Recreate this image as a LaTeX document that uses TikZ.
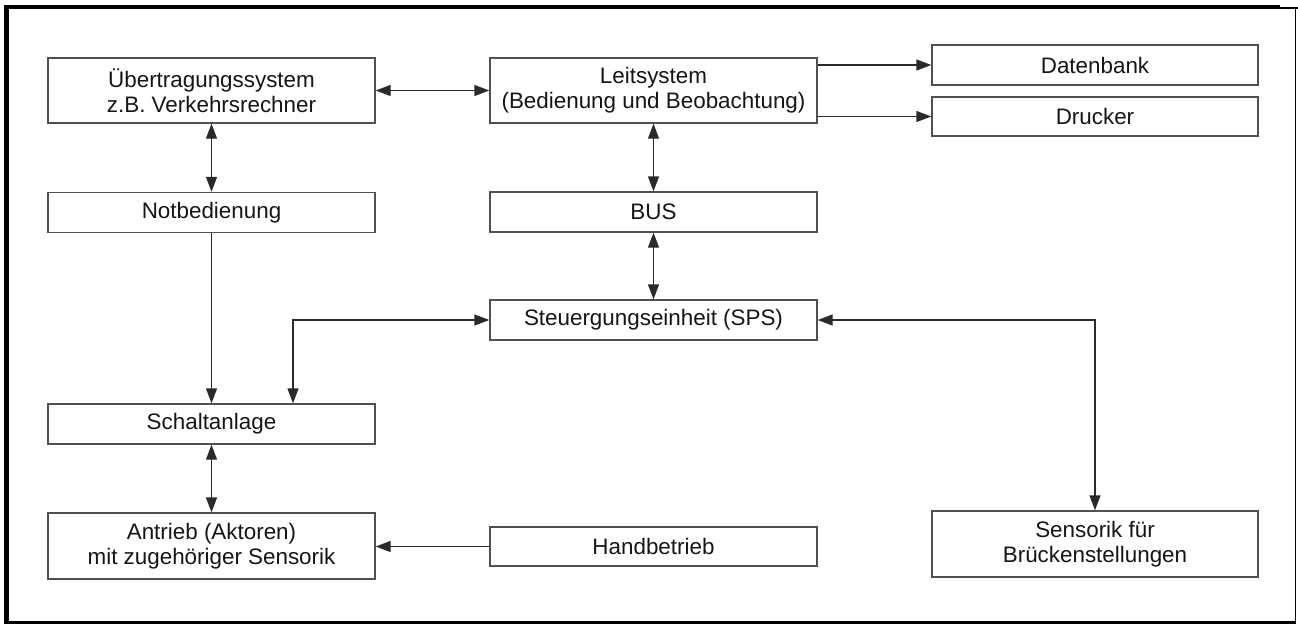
\documentclass[tikz,border=0pt]{standalone}
\usepackage{fontspec}
\setmainfont{Liberation Sans}
\usetikzlibrary{arrows.meta}
\definecolor{RahmenGrau}{HTML}{505050}
\definecolor{LinieGrau}{HTML}{2A2A2A}
\definecolor{TextDunkel}{HTML}{151515}

\begin{document}
\begin{tikzpicture}[x=1pt, y=-1pt,
  kasten/.style={draw=RahmenGrau, line width=1.4pt, text=TextDunkel, inner sep=0pt,
    minimum width=327pt, minimum height=#1, align=center,
    font=\fontsize{22.4}{25}\selectfont},
  kasten/.default=40pt,
  pfeil/.style={draw=LinieGrau, line width=1.4pt, -{Triangle[length=15pt,width=11pt]}},
  doppelpfeil/.style={pfeil, {Triangle[length=15pt,width=11pt]}-{Triangle[length=15pt,width=11pt]}}]

  % Seitenformat und Rahmen
  \useasboundingbox (0,0) rectangle (1298,624);
  \draw[line width=5pt] (6,5) -- (6,624);
  \draw[line width=4pt] (4,7) -- (1280,7);
  \draw[line width=2pt] (1280,8) -- (1298,8);
  \draw[line width=1.5pt] (1295.5,8) -- (1295.5,623);
  \draw[line width=2.5pt] (4,622.5) -- (1296,622.5);

  % Linke Spalte
  \node[kasten=65pt] (uebertragung) at (211.5,90.5) {Übertragungssystem\\z.B. Verkehrsrechner};
  \node[kasten] (notbedienung) at (211.5,212.5) {Notbedienung};
  \node[kasten] (schaltanlage) at (211.5,424) {Schaltanlage};
  \node[kasten=66pt] (antrieb) at (211.5,546) {Antrieb (Aktoren)\\mit zugehöriger Sensorik};

  % Mittlere Spalte
  \node[kasten=65pt] (leitsystem) at (653.5,90.5) {Leitsystem\\(Bedienung und Beobachtung)};
  \node[kasten] (bus) at (653.5,212) {BUS};
  \node[kasten] (sps) at (653.5,320) {Steuergungseinheit (SPS)};
  \node[kasten=39pt] (handbetrieb) at (653.5,546.5) {Handbetrieb};

  % Rechte Spalte
  \node[kasten, minimum width=326pt] (datenbank) at (1095,65) {Datenbank};
  \node[kasten=39pt, minimum width=326pt] (drucker) at (1095,116.5) {Drucker};
  \node[kasten=66pt, minimum width=326pt] (sensorik) at (1095,544) {Sensorik für\\Brückenstellungen};

  % Verbindungen
  \draw[doppelpfeil] (uebertragung) -- (leitsystem);
  \draw[pfeil] (datenbank.west -| leitsystem.east) -- (datenbank.west);
  \draw[pfeil] (drucker.west -| leitsystem.east) -- (drucker.west);
  \draw[doppelpfeil] (uebertragung) -- (notbedienung);
  \draw[doppelpfeil] (leitsystem) -- (bus);
  \draw[doppelpfeil] (bus) -- (sps);
  \draw[pfeil] (notbedienung) -- (schaltanlage);
  \draw[doppelpfeil] (sps.west) -| ([xshift=81.5pt]schaltanlage.north);
  \draw[doppelpfeil] (sps.east) -| (sensorik.north);
  \draw[doppelpfeil] (schaltanlage) -- (antrieb);
  \draw[pfeil] (handbetrieb.west) -- (handbetrieb.west -| antrieb.east);

\end{tikzpicture}
\end{document}
